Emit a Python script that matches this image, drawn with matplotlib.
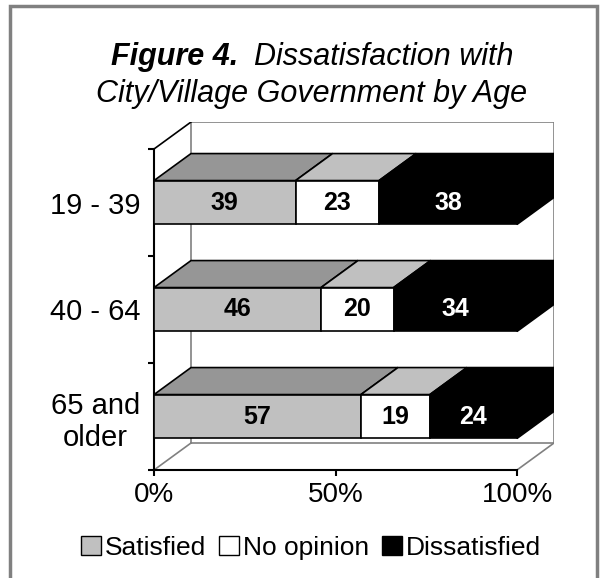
import matplotlib
matplotlib.use("Agg")
import matplotlib.pyplot as plt
from matplotlib.patches import Polygon, Rectangle

plt.rcParams['font.family'] = ['Liberation Sans', 'DejaVu Sans']

# data
age_groups = ['19 - 39', '40 - 64', '65 and\nolder']
satisfied = [39, 46, 57]
no_opinion = [23, 20, 19]
dissatisfied = [38, 34, 24]
series_names = ['Satisfied', 'No opinion', 'Dissatisfied']
x_ticks = [0, 50, 100]
x_tick_labels = ['0%', '50%', '100%']

front_colors = ['#c0c0c0', '#ffffff', '#000000']
top_colors = ['#969696', '#c0c0c0', '#000000']
text_colors = ['black', 'black', 'white']

W, H = 608, 578
fig = plt.figure(figsize=(W / 100, H / 100), dpi=100)

# 3d depth offset in data units
ddx = 37 / 363 * 100
ddy = 27 / 107
bar_h = 0.41

left_px, right_px, bottom_px = 154, 154 + 363 * (100 + ddx) / 100, 470
top_px = bottom_px - 107 * (3 + ddy)
ax = fig.add_axes([left_px / W, 1 - bottom_px / H,
                   (right_px - left_px) / W, (bottom_px - top_px) / H])
ax.set_xlim(0, 100 + ddx)
ax.set_ylim(-0.5, 2.5 + ddy)

grey = '#808080'
# back wall and floor
ax.plot([ddx, ddx, 100 + ddx, 100 + ddx, ddx],
        [-0.5 + ddy, 2.5 + ddy, 2.5 + ddy, -0.5 + ddy, -0.5 + ddy],
        color=grey, lw=1.2, zorder=1)
ax.plot([0, ddx], [-0.5, -0.5 + ddy], color=grey, lw=1.2, zorder=1)
ax.plot([100, 100 + ddx], [-0.5, -0.5 + ddy], color=grey, lw=1.2, zorder=1)
ax.plot([0, ddx], [2.5, 2.5 + ddy], color='black', lw=1.2, zorder=1)

ypos = [2, 1, 0]
series = [satisfied, no_opinion, dissatisfied]
for i, y in enumerate(ypos):
    left = 0
    for s, vals in enumerate(series):
        w = vals[i]
        ax.barh(y, w, left=left, height=bar_h, color=front_colors[s],
                edgecolor='black', linewidth=1.2, zorder=3)
        yt = y + bar_h / 2
        top = Polygon([(left, yt), (left + w, yt), (left + w + ddx, yt + ddy),
                       (left + ddx, yt + ddy)], closed=True,
                      facecolor=top_colors[s], edgecolor='black', lw=1.2, zorder=2)
        ax.add_patch(top)
        if s == len(series) - 1:
            yb = y - bar_h / 2
            side = Polygon([(left + w, yb), (left + w, yt),
                            (left + w + ddx, yt + ddy), (left + w + ddx, yb + ddy)],
                           closed=True, facecolor=top_colors[s],
                           edgecolor='black', lw=1.2, zorder=2)
            ax.add_patch(side)
        ax.text(left + w / 2, y, str(w), ha='center', va='center',
                fontsize=18, fontweight='bold', color=text_colors[s], zorder=4)
        left += w

# axes
for sp in ['top', 'right']:
    ax.spines[sp].set_visible(False)
ax.spines['left'].set_bounds(-0.5, 2.5)
ax.spines['bottom'].set_bounds(0, 100)
ax.spines['left'].set_linewidth(1.5)
ax.spines['bottom'].set_linewidth(1.5)
ax.patch.set_visible(False)

ax.set_xticks(x_ticks)
ax.set_xticklabels(x_tick_labels, fontsize=20)
ax.tick_params(axis='x', direction='out', length=4.5, width=1.5, pad=4)

ax.set_yticks([-0.5, 0.5, 1.5, 2.5])
ax.set_yticklabels([])
ax.tick_params(axis='y', which='major', direction='out', length=4.5, width=1.5)
ax.set_yticks(ypos, minor=True)
ax.set_yticklabels(age_groups, minor=True, fontsize=21, multialignment='center')
ax.tick_params(axis='y', which='minor', length=0, pad=10)

# legend
handles = [Rectangle((0, 0), 1, 1, facecolor=c, edgecolor='black', lw=1)
           for c in front_colors]
fig.legend(handles, series_names, loc='center', bbox_to_anchor=(311 / W, 1 - 548 / H),
           ncol=3, frameon=False, fontsize=19, handlelength=0.75, handleheight=0.75,
           handletextpad=0.15, columnspacing=0.5, borderaxespad=0)

# title
renderer = fig.canvas.get_renderer()
t1 = fig.text(0, 1 - 65 / H, 'Figure 4.', fontsize=22, fontweight='bold',
              fontstyle='italic', va='baseline', ha='left')
t2 = fig.text(0, 1 - 65 / H, 'Dissatisfaction with', fontsize=22,
              fontstyle='italic', va='baseline', ha='left')
w1 = t1.get_window_extent(renderer).width
w2 = t2.get_window_extent(renderer).width
gap = 16
start = 312 - (w1 + gap + w2) / 2
t1.set_x(start / W)
t2.set_x((start + w1 + gap) / W)
fig.text(312 / W, 1 - 102 / H, 'City/Village Government by Age', fontsize=22,
         fontstyle='italic', va='baseline', ha='center')

# outer frame
fig.patches.append(Rectangle((10 / W, -0.1), 587 / W, 1 - 6 / H + 0.1,
                             transform=fig.transFigure, fill=False,
                             edgecolor=grey, lw=2.5))

fig.savefig('out.png', dpi=100)
